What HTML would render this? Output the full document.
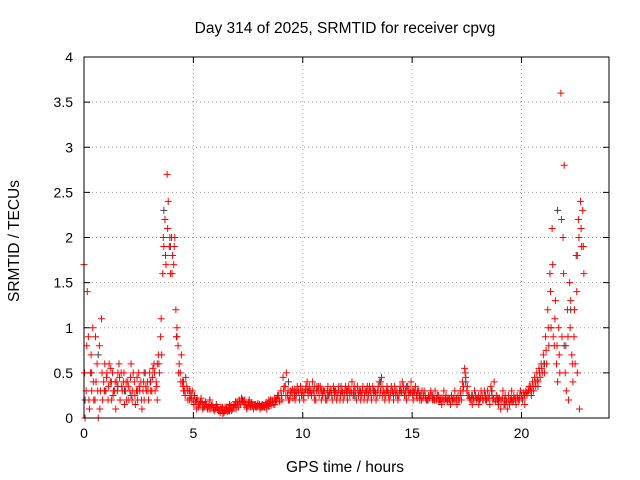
<!DOCTYPE html>
<html><head><meta charset="utf-8"><style>
body{margin:0;background:#fff}
svg{display:block;font-family:"Liberation Sans",sans-serif}
</style></head><body>
<svg id="chart" width="640" height="480">
<text x="345" y="33" text-anchor="middle" font-size="15.5">Day 314 of 2025, SRMTID for receiver cpvg</text>
<text x="345" y="472" text-anchor="middle" font-size="15.5">GPS time / hours</text>
<text transform="translate(19,241) rotate(-90)" text-anchor="middle" font-size="15.5">SRMTID / TECUs</text>
<g id="grid"></g>
<g id="ticks"></g>
<g id="marks"></g>
<rect x="84" y="57" width="525" height="361" fill="none" stroke="#000"/>
</svg>
<script>
const xTicks=[0,5,10,15,20];
const yTicks=[0,0.5,1,1.5,2,2.5,3,3.5,4];
const yTickLabels=["0","0.5","1","1.5","2","2.5","3","3.5","4"];
const redStep=0.1;
const redA=[1.7,0.3,0.9,0.5,1.0,0.2,0.6,0.8,1.1,0.4,
0.3,0.2,0.4,0.5,0.3,0.4,0.6,0.5,0.4,0.3,
0.4,0.3,0.2,0.4,0.3,0.5,0.4,0.3,0.5,0.4,
0.5,0.3,0.6,0.4,0.7,0.9,1.6,2.2,2.7,1.9,
2.0,1.7,1.2,0.8,0.5,0.4,0.3,0.35,0.3,0.25,
0.2,0.18,0.2,0.15,0.17,0.12,0.15,0.13,0.1,0.12,
0.1,0.12,0.08,0.1,0.06,0.1,0.08,0.12,0.1,0.15,
0.18,0.2,0.22,0.18,0.15,0.14,0.12,0.13,0.15,0.12,
0.13,0.12,0.14,0.15,0.16,0.18,0.2,0.22,0.2,0.25,
0.3,0.45,0.35,0.25,0.2,0.28,0.3,0.25,0.3,0.35,
0.3,0.28,0.4,0.35,0.25,0.3,0.2,0.3,0.35,0.25,
0.3,0.2,0.25,0.3,0.35,0.3,0.25,0.2,0.3,0.25,
0.3,0.35,0.3,0.25,0.3,0.35,0.3,0.25,0.2,0.3,
0.25,0.3,0.35,0.3,0.25,0.4,0.45,0.3,0.25,0.3,
0.25,0.3,0.35,0.3,0.25,0.3,0.35,0.3,0.35,0.3,
0.3,0.28,0.25,0.3,0.25,0.22,0.25,0.2,0.22,0.25,
0.22,0.2,0.25,0.2,0.22,0.2,0.18,0.2,0.25,0.22,
0.2,0.25,0.3,0.4,0.55,0.3,0.25,0.2,0.22,0.25,
0.22,0.2,0.25,0.3,0.2,0.22,0.35,0.2,0.18,0.2,
0.22,0.2,0.15,0.2,0.25,0.2,0.18,0.22,0.25,0.2,
0.25,0.28,0.3,0.3,0.35,0.4,0.45,0.5,0.55,0.6,
0.7,0.9,1.2,1.6,2.1,0.8,0.6,1.0,3.6,2.0,
0.5,1.2,1.5,0.7,0.9,1.8,2.2,2.4,2.3];
const redB=[0.0,1.4,0.1,0.3,0.2,0.4,0.0,0.3,0.2,0.6,
0.5,0.6,0.2,0.3,0.1,0.5,0.2,0.3,0.15,0.2,
0.2,0.6,0.5,0.15,0.2,0.3,0.1,0.2,0.3,0.2,
0.3,0.55,0.3,0.2,0.5,0.7,1.9,1.7,2.4,1.6,
1.8,2.0,1.0,0.6,0.7,0.3,0.45,0.2,0.22,0.3,
0.25,0.1,0.15,0.22,0.12,0.18,0.1,0.2,0.15,0.08,
0.15,0.08,0.12,0.05,0.12,0.07,0.15,0.08,0.14,0.1,
0.12,0.15,0.18,0.2,0.1,0.2,0.17,0.1,0.12,0.16,
0.1,0.15,0.12,0.1,0.2,0.14,0.15,0.18,0.25,0.18,
0.2,0.35,0.5,0.2,0.3,0.22,0.2,0.35,0.2,0.25,
0.2,0.35,0.25,0.3,0.4,0.2,0.35,0.25,0.2,0.3,
0.2,0.35,0.3,0.2,0.25,0.2,0.35,0.3,0.2,0.35,
0.2,0.25,0.4,0.35,0.2,0.25,0.2,0.35,0.3,0.2,
0.35,0.2,0.25,0.2,0.35,0.3,0.25,0.2,0.35,0.2,
0.35,0.2,0.25,0.2,0.35,0.4,0.25,0.2,0.25,0.4,
0.2,0.35,0.3,0.2,0.3,0.3,0.2,0.25,0.3,0.2,
0.3,0.25,0.2,0.15,0.3,0.25,0.22,0.15,0.2,0.3,
0.15,0.2,0.2,0.35,0.45,0.25,0.2,0.15,0.3,0.2,
0.15,0.3,0.2,0.2,0.3,0.15,0.25,0.4,0.25,0.15,
0.1,0.3,0.25,0.1,0.15,0.3,0.25,0.15,0.2,0.3,
0.2,0.15,0.25,0.35,0.25,0.3,0.35,0.4,0.45,0.5,
0.5,0.6,0.8,1.0,0.9,1.3,0.4,0.5,0.9,2.8,
0.3,0.2,1.3,0.4,0.6,0.5,0.1,1.9,1.6];
const redC=[0.5,0.8,0.2,0.7,0.4,0.9,0.3,0.1,0.5,0.3,
0.45,0.35,0.55,0.25,0.4,0.3,0.45,0.35,0.5,0.4,
0.35,0.45,0.3,0.25,0.45,0.35,0.2,0.4,0.35,0.3,
0.4,0.45,0.5,0.35,0.6,1.1,2.0,1.8,2.1,2.0,
1.6,1.9,0.9,0.5,0.4,0.35,0.25,0.3,0.2,0.2,
0.15,0.2,0.12,0.18,0.1,0.15,0.12,0.1,0.14,0.1,
0.12,0.1,0.06,0.12,0.08,0.12,0.1,0.14,0.12,0.18,
0.15,0.17,0.2,0.15,0.12,0.17,0.15,0.15,0.13,0.14,
0.15,0.14,0.12,0.17,0.13,0.2,0.18,0.15,0.22,0.2,
0.25,0.3,0.25,0.3,0.25,0.32,0.25,0.3,0.28,0.3,
0.25,0.32,0.3,0.28,0.3,0.25,0.3,0.35,0.3,0.3,
0.25,0.3,0.28,0.25,0.3,0.28,0.3,0.25,0.28,0.3,
0.25,0.3,0.28,0.3,0.25,0.3,0.28,0.3,0.25,0.28,
0.3,0.25,0.3,0.28,0.3,0.25,0.35,0.28,0.3,0.25,
0.3,0.28,0.3,0.25,0.3,0.28,0.3,0.25,0.3,0.28,
0.25,0.3,0.22,0.25,0.2,0.25,0.22,0.2,0.25,0.2,
0.2,0.22,0.18,0.22,0.2,0.22,0.2,0.22,0.2,0.2,
0.22,0.2,0.25,0.3,0.5,0.35,0.22,0.25,0.2,0.22,
0.25,0.22,0.2,0.25,0.22,0.25,0.3,0.22,0.2,0.22,
0.2,0.22,0.2,0.18,0.2,0.22,0.2,0.2,0.22,0.25,
0.22,0.25,0.28,0.3,0.3,0.35,0.4,0.42,0.5,0.55,
0.6,0.75,1.0,1.4,1.7,1.1,0.8,0.7,2.2,1.6,
0.8,0.9,1.0,0.6,1.2,1.4,2.0,2.1,1.9];
const darkStep=0.3;
const darkVals=[0.2,0.5,0.7,0.3,0.4,0.35,0.3,0.25,0.3,0.5,
0.4,0.6,2.3,1.9,0.9,0.4,0.3,0.2,0.15,0.2,
0.12,0.1,0.08,0.12,0.2,0.18,0.15,0.12,0.14,0.2,
0.2,0.4,0.3,0.25,0.3,0.35,0.3,0.25,0.3,0.35,
0.3,0.25,0.3,0.35,0.3,0.4,0.3,0.25,0.3,0.35,
0.3,0.25,0.2,0.25,0.2,0.22,0.2,0.2,0.4,0.25,
0.2,0.25,0.3,0.2,0.15,0.2,0.2,0.25,0.3,0.35,
0.6,1.0,2.3,0.8,1.2,1.8];

const X0=84,X1=609,Y0=418,Y1=57,XMAX=24,YMAX=4;
const xs=v=>X0+(X1-X0)*v/XMAX;
const ys=v=>Y0-(Y0-Y1)*v/YMAX;
const NS="http://www.w3.org/2000/svg";
function mk(tag,attrs,parent){const e=document.createElementNS(NS,tag);for(const k in attrs)e.setAttribute(k,attrs[k]);parent.appendChild(e);return e;}
const grid=document.getElementById('grid'),ticks=document.getElementById('ticks'),marks=document.getElementById('marks');
xTicks.forEach(t=>{
 const x=xs(t);
 if(t>0){const g=mk('line',{x1:x,x2:x,y1:Y0,y2:Y1,stroke:'#a0a0a0','stroke-dasharray':'1,3'},grid);
 
 }
 mk('line',{x1:x,x2:x,y1:Y0,y2:Y0-6,stroke:'#000'},ticks);
 mk('line',{x1:x,x2:x,y1:Y1,y2:Y1+6,stroke:'#000'},ticks);
 const l=mk('text',{x:x,y:Y0+20,'text-anchor':'middle','font-size':14},ticks);l.textContent=t;
 
 
});
yTicks.forEach((t,i)=>{
 const y=ys(t);
 if(t>0&&t<YMAX){const g=mk('line',{x1:X0,x2:X1,y1:y,y2:y,stroke:'#a0a0a0','stroke-dasharray':'1,3'},grid);
 
 }
 mk('line',{x1:X0,x2:X0+6,y1:y,y2:y,stroke:'#000'},ticks);
 mk('line',{x1:X1,x2:X1-6,y1:y,y2:y,stroke:'#000'},ticks);
 const l=mk('text',{x:X0-11,y:y+5,'text-anchor':'end','font-size':14},ticks);l.textContent=yTickLabels[i];
 
 
});
function plus(t,v,color,name){
 const x=xs(t),y=ys(v);
 const p=mk('path',{d:`M${x-3.5},${y}h7M${x},${y-3.5}v7`,stroke:color,'stroke-width':1,fill:'none'},marks);
 
 
}
darkVals.forEach((v,i)=>plus(i*darkStep+0.05,v,'#404050','dark-point'));
redA.forEach((v,i)=>plus(i*redStep,v,'#ff0000','red-point'));
redB.forEach((v,i)=>plus(i*redStep+0.05,v,'#ff0000','red-point'));
redC.forEach((v,i)=>plus(i*redStep+0.025,v,'#ff0000','red-point'));
</script>
</body></html>
